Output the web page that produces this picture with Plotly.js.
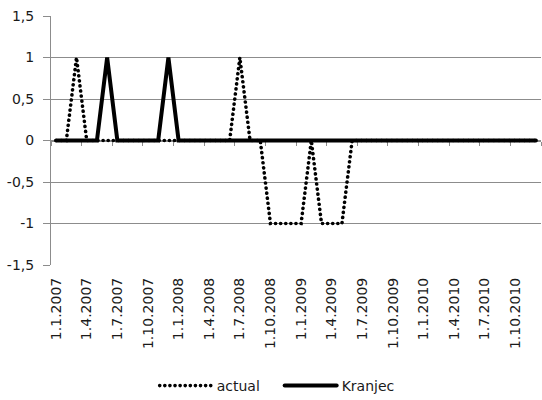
<!DOCTYPE html>
<html>
<head>
<meta charset="utf-8">
<script src="https://cdn.plot.ly/plotly-3.0.1.min.js"></script>
<style>
  html, body { margin: 0; padding: 0; background: #fff; }
  #chart { width: 542px; height: 400px; }
  /* round caps turn the short dashes of the "actual" series into dots */
  .js-line { stroke-linecap: round; }
</style>
</head>
<body>
<div id="chart"></div>
<script>
// Monthly observations, January 2007 – December 2010
const months = [
  "1.1.2007","1.2.2007","1.3.2007","1.4.2007","1.5.2007","1.6.2007",
  "1.7.2007","1.8.2007","1.9.2007","1.10.2007","1.11.2007","1.12.2007",
  "1.1.2008","1.2.2008","1.3.2008","1.4.2008","1.5.2008","1.6.2008",
  "1.7.2008","1.8.2008","1.9.2008","1.10.2008","1.11.2008","1.12.2008",
  "1.1.2009","1.2.2009","1.3.2009","1.4.2009","1.5.2009","1.6.2009",
  "1.7.2009","1.8.2009","1.9.2009","1.10.2009","1.11.2009","1.12.2009",
  "1.1.2010","1.2.2010","1.3.2010","1.4.2010","1.5.2010","1.6.2010",
  "1.7.2010","1.8.2010","1.9.2010","1.10.2010","1.11.2010","1.12.2010"
];

const actual = [
  0, 0, 1, 0, 0, 0, 0, 0, 0, 0, 0, 0,
  0, 0, 0, 0, 0, 0, 1, 0, 0,-1,-1,-1,
 -1, 0,-1,-1,-1, 0, 0, 0, 0, 0, 0, 0,
  0, 0, 0, 0, 0, 0, 0, 0, 0, 0, 0, 0
];

const kranjec = [
  0, 0, 0, 0, 0, 1, 0, 0, 0, 0, 0, 1,
  0, 0, 0, 0, 0, 0, 0, 0, 0, 0, 0, 0,
  0, 0, 0, 0, 0, 0, 0, 0, 0, 0, 0, 0,
  0, 0, 0, 0, 0, 0, 0, 0, 0, 0, 0, 0
];

// Every third month is labelled
const xTickLabels = months.filter((m, i) => i % 3 === 0);

const yTickVals = [-1.5, -1, -0.5, 0, 0.5, 1, 1.5];
const yTickLabels = ["-1,5", "-1", "-0,5", "0", "0,5", "1", "1,5"];

// Tick marks sit on the boundaries between quarters
const boundaryTicks = [];
for (let b = -0.5; b <= months.length - 0.5; b += 3) boundaryTicks.push(b);

const FONT = "DejaVu Sans, Verdana, sans-serif";
const GRID = "#8c8c8c";
const TEXT = "#1a1a1a";

const traces = [
  {
    name: "actual",
    x: months,
    y: actual,
    type: "scatter",
    mode: "lines",
    line: { color: "#000", width: 3.6, dash: "0.1px,5px" }
  },
  {
    name: "Kranjec",
    x: months,
    y: kranjec,
    type: "scatter",
    mode: "lines",
    line: { color: "#000", width: 4 }
  },
  // empty trace that gives the zero-crossing axis its subplot
  {
    x: [],
    y: [],
    xaxis: "x2",
    yaxis: "y",
    type: "scatter",
    mode: "lines",
    showlegend: false,
    hoverinfo: "skip"
  }
];

const layout = {
  width: 542,
  height: 400,
  margin: { l: 51, r: 1, t: 16, b: 135 },
  paper_bgcolor: "#fff",
  plot_bgcolor: "#fff",
  font: { family: FONT, size: 14, color: TEXT },
  showlegend: true,
  legend: {
    orientation: "h",
    xref: "container", yref: "container",
    x: 0.516, xanchor: "center",
    y: 0.035, yanchor: "middle",
    font: { family: FONT, size: 14, color: TEXT },
    itemwidth: 52,
    entrywidth: 58,
    traceorder: "normal"
  },
  xaxis: {
    type: "category",
    categoryorder: "array",
    categoryarray: months,
    range: [-0.5, months.length - 0.5],
    tickmode: "array",
    tickvals: xTickLabels,
    ticktext: xTickLabels,
    tickangle: -90,
    ticks: "",
    ticklabelstandoff: 9,
    showgrid: false,
    showline: false,
    zeroline: false,
    tickfont: { family: FONT, size: 14, color: TEXT }
  },
  // horizontal axis line crossing at zero, with quarter tick marks
  xaxis2: {
    overlaying: "x",
    anchor: "free",
    position: 0.5,
    range: [-0.5, months.length - 0.5],
    tickmode: "array",
    tickvals: boundaryTicks,
    ticks: "outside",
    ticklen: 4,
    tickwidth: 1,
    tickcolor: GRID,
    showticklabels: false,
    showline: true,
    linecolor: GRID,
    linewidth: 1,
    showgrid: false,
    zeroline: false,
    layer: "below traces"
  },
  yaxis: {
    range: [-1.5, 1.5],
    tickmode: "array",
    tickvals: yTickVals,
    ticktext: yTickLabels,
    ticks: "outside",
    ticklen: 7,
    tickcolor: GRID,
    showgrid: true,
    gridcolor: GRID,
    gridwidth: 1,
    zeroline: false,
    showline: true,
    linecolor: GRID,
    linewidth: 1,
    ticklabelstandoff: 6,
    tickfont: { family: FONT, size: 14, color: TEXT }
  }
};

Plotly.newPlot("chart", traces, layout, { displayModeBar: false, staticPlot: true });
</script>
</body>
</html>
